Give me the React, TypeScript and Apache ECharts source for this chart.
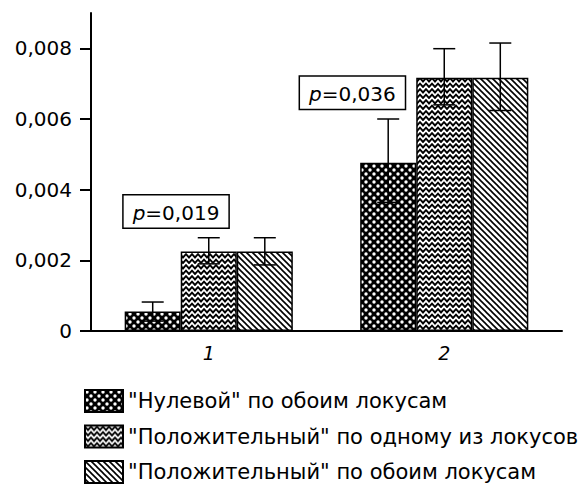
import React, { useEffect, useRef } from "react";
import * as echarts from "echarts";

const categories = ["1", "2"];
const seriesNames = [
  "\"Нулевой\" по обоим локусам",
  "\"Положительный\" по одному из локусов",
  "\"Положительный\" по обоим локусам",
];
const nullBoth = [0.00055, 0.00476];
const posOne = [0.00225, 0.00717];
const posBoth = [0.00225, 0.00717];
const errLow = [
  [0.00028, 0.00364],
  [0.0019, 0.0064],
  [0.00187, 0.00624],
];
const errHigh = [
  [0.00082, 0.006],
  [0.00264, 0.00799],
  [0.00264, 0.00815],
];
const yTicks = [0, 0.002, 0.004, 0.006, 0.008];
const pLabels = ["0,019", "0,036"];
const pPos = [
  [0.361, 0.00338],
  [1.11, 0.00674],
];

const FONT = "DejaVu Sans";

function makeTile(w: number, h: number, draw: (c: CanvasRenderingContext2D) => void) {
  const cv = document.createElement("canvas");
  cv.width = w;
  cv.height = h;
  const ctx = cv.getContext("2d")!;
  draw(ctx);
  return { image: cv.toDataURL(), imageWidth: w, imageHeight: h, repeat: "repeat" };
}

export default function App() {
  const ref = useRef<HTMLDivElement>(null);
  useEffect(() => {
    if (!ref.current) return;
    const chart = echarts.init(ref.current, null, { renderer: "svg" });

    const dots = makeTile(8, 8, (c) => {
      c.fillStyle = "#000";
      c.fillRect(0, 0, 8, 8);
      c.fillStyle = "#fff";
      c.beginPath();
      c.arc(2, 2, 1.7, 0, Math.PI * 2);
      c.fill();
      c.beginPath();
      c.arc(6, 6, 1.7, 0, Math.PI * 2);
      c.fill();
    });
    const waves = makeTile(6, 11, (c) => {
      c.fillStyle = "#fff";
      c.fillRect(0, 0, 6, 11);
      c.strokeStyle = "#000";
      c.lineWidth = 1.9;
      for (const oy of [0, 5.5]) {
        c.beginPath();
        c.moveTo(-3, 4.5 + oy);
        c.lineTo(0, 1.2 + oy);
        c.lineTo(3, 4.5 + oy);
        c.lineTo(6, 1.2 + oy);
        c.lineTo(9, 4.5 + oy);
        c.stroke();
      }
    });
    const diag = makeTile(6, 6, (c) => {
      c.fillStyle = "#fff";
      c.fillRect(0, 0, 6, 6);
      c.strokeStyle = "#000";
      c.lineWidth = 1.6;
      for (const o of [-6, 0, 6]) {
        c.beginPath();
        c.moveTo(o - 1, -1);
        c.lineTo(o + 7, 7);
        c.stroke();
      }
    });
    const patterns = [dots, waves, diag];
    const values = [nullBoth, posOne, posBoth];
    const BAR_FRAC = 0.238;

    const errData: number[][] = [];
    for (let s = 0; s < 3; s++) {
      for (let i = 0; i < categories.length; i++) {
        errData.push([i, errLow[s][i], errHigh[s][i], s]);
      }
    }

    const barSeries = values.map((v, s) => ({
      name: seriesNames[s],
      type: "bar",
      data: v,
      barWidth: BAR_FRAC * 100 + "%",
      barGap: "0%",
      itemStyle: { color: patterns[s] as any, borderColor: "#000", borderWidth: 1.5 },
      z: 2,
    }));

    chart.setOption({
      animation: false,
      grid: { left: 91, right: 17, top: 13, bottom: 153 },
      legend: {
        orient: "vertical",
        left: 84,
        top: 389,
        height: 200,
        width: 600,
        padding: 0,
        icon: "rect",
        itemWidth: 38,
        itemHeight: 22,
        itemGap: 11.5,
        data: seriesNames,
        textStyle: { fontFamily: FONT, fontSize: 21, lineHeight: 22, color: "#000" },
        selectedMode: false,
      },
      xAxis: [
        {
          type: "category",
          data: categories,
          axisLine: { lineStyle: { color: "#000", width: 2 } },
          axisTick: { length: 11, lineStyle: { color: "#000", width: 2 } },
          axisLabel: { fontFamily: FONT, fontSize: 19, fontStyle: "italic", color: "#000", margin: 12 },
        },
        { type: "value", min: 0, max: 2, show: false },
      ],
      yAxis: {
        type: "value",
        min: 0,
        max: 0.009,
        splitLine: { show: false },
        axisLine: { show: true, lineStyle: { color: "#000", width: 2 } },
        axisTick: { show: true, length: 11, customValues: yTicks, lineStyle: { color: "#000", width: 2 } },
        axisLabel: {
          customValues: yTicks,
          fontFamily: FONT,
          fontSize: 20,
          color: "#000",
          margin: 19,
          formatter: (v: number) => (v === 0 ? "0" : v.toFixed(3).replace(".", ",")),
        },
      },
      series: [
        ...barSeries,
        {
          type: "custom",
          name: "err",
          data: errData,
          z: 5,
          encode: { x: 0, y: [1, 2] },
          renderItem: (params: any, api: any) => {
            const cat = api.value(0);
            const lo = api.value(1);
            const hi = api.value(2);
            const s = api.value(3);
            const bandW = api.size([1, 0])[0];
            const barW = bandW * BAR_FRAC;
            const pLo = api.coord([cat, lo]);
            const pHi = api.coord([cat, hi]);
            const x = pLo[0] + (s - 1) * barW;
            const cap = 11;
            const st = { stroke: "#000", lineWidth: 1.5 };
            return {
              type: "group",
              children: [
                { type: "line", shape: { x1: x, y1: pLo[1], x2: x, y2: pHi[1] }, style: st },
                { type: "line", shape: { x1: x - cap, y1: pHi[1], x2: x + cap, y2: pHi[1] }, style: st },
                { type: "line", shape: { x1: x - cap, y1: pLo[1], x2: x + cap, y2: pLo[1] }, style: st },
              ],
            };
          },
        },
        {
          type: "custom",
          name: "pvals",
          xAxisIndex: 1,
          data: pPos.map((p, i) => [p[0], p[1], i]),
          z: 6,
          renderItem: (params: any, api: any) => {
            const pt = api.coord([api.value(0), api.value(1)]);
            const i = api.value(2);
            return {
              type: "text",
              x: pt[0],
              y: pt[1],
              style: {
                text: "{i|p}=" + pLabels[i],
                fontFamily: FONT,
                fontSize: 20,
                fill: "#000",
                align: "center",
                verticalAlign: "middle",
                backgroundColor: "#fff",
                borderColor: "#000",
                borderWidth: 1.5,
                padding: [7, 9, 5, 9],
                rich: { i: { fontStyle: "italic", fontFamily: FONT, fontSize: 20 } },
              },
            };
          },
        },
      ],
    });
    return () => chart.dispose();
  }, []);
  return <div ref={ref} style={{ position: "absolute", left: 0, top: 0, width: 579, height: 484 }} />;
}
